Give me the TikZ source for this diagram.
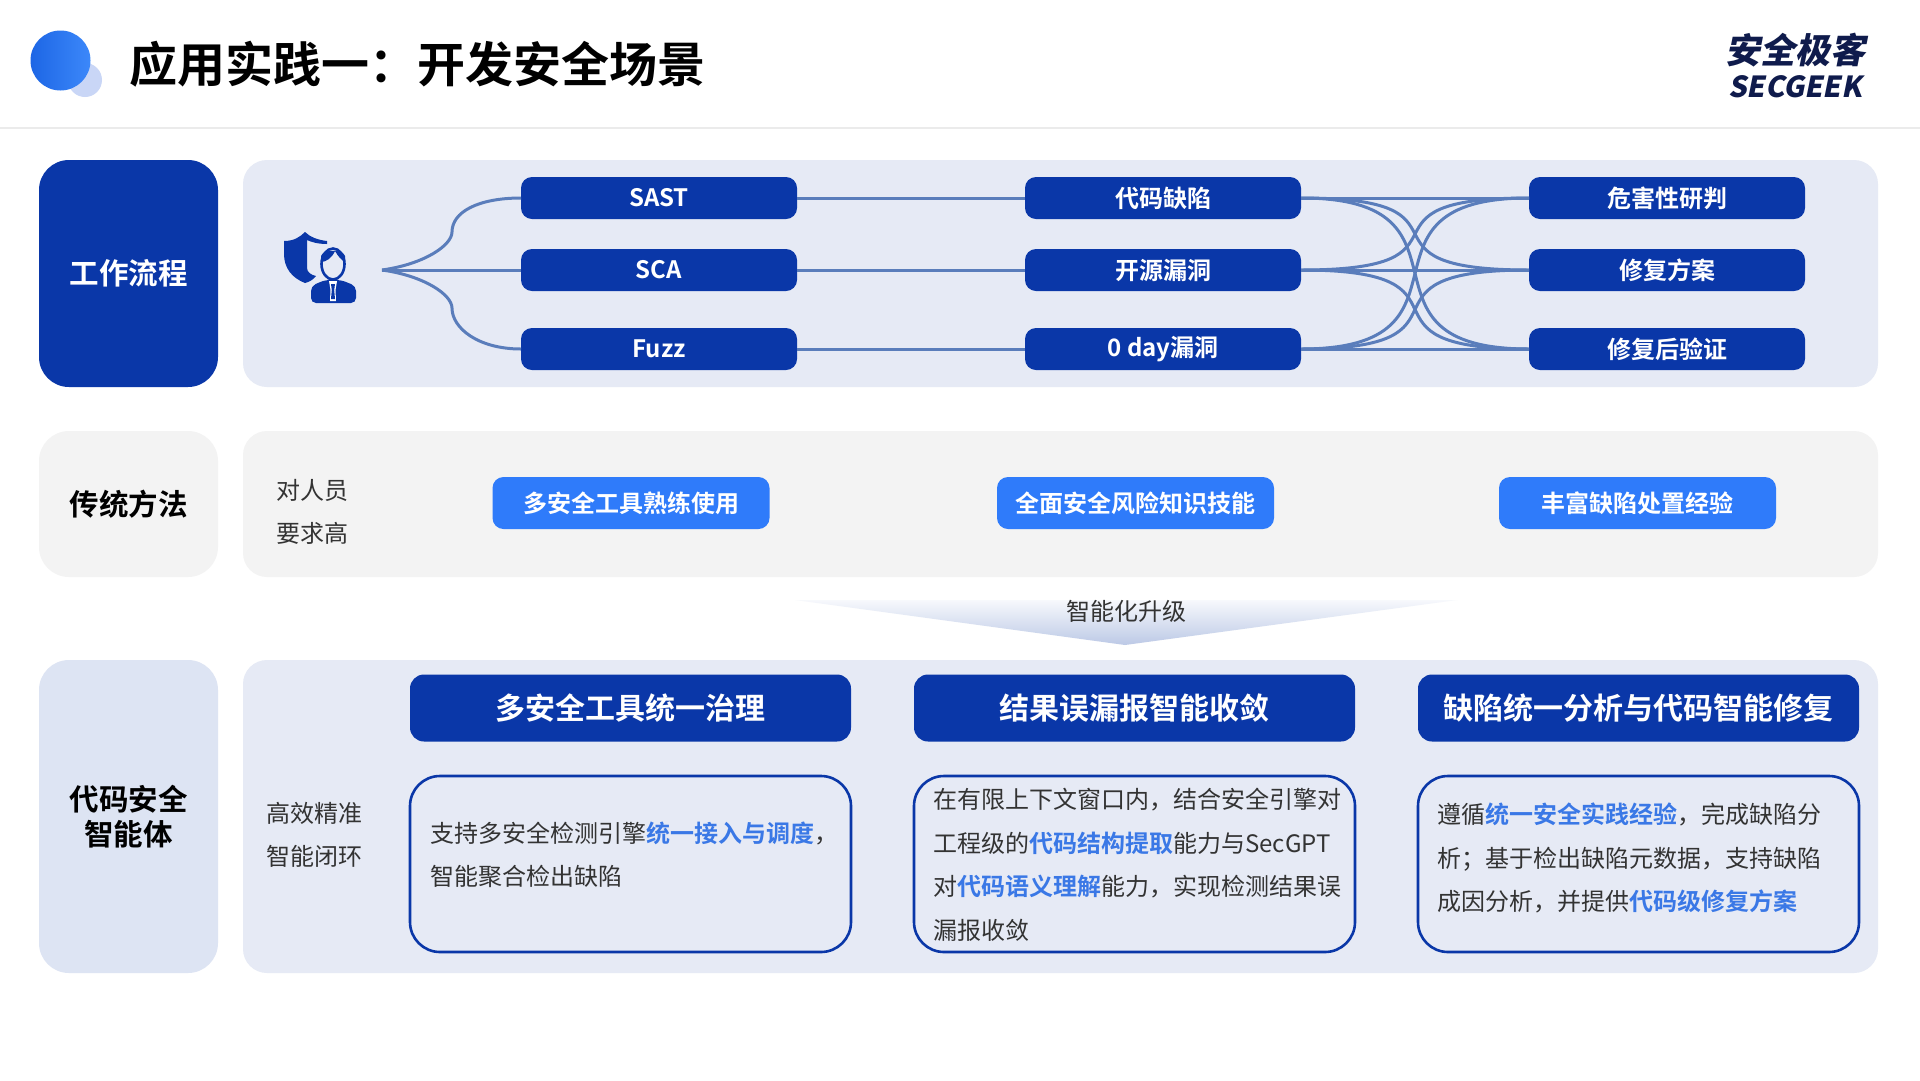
\documentclass[tikz,border=0pt]{standalone}
\usepackage{fontspec}
\setmainfont{Noto Sans CJK SC}[BoldFont={Noto Sans CJK SC Bold}]
\newfontfamily\logofont{Noto Sans CJK SC Black}[FakeSlant=0.2]

\definecolor{deepblue}{HTML}{0A37A8}
\definecolor{brightblue}{HTML}{2F7BFA}
\definecolor{markblue}{HTML}{3A78E6}
\definecolor{linkblue}{HTML}{5A7DBB}
\definecolor{panelblue}{HTML}{E6EAF5}
\definecolor{sideblue}{HTML}{DDE4F3}
\definecolor{panelgray}{HTML}{F3F3F3}
\definecolor{inktext}{HTML}{333333}
\definecolor{tipblue}{HTML}{BCC9E6}
\definecolor{dotblue}{HTML}{C9D6F6}
\definecolor{dotleft}{HTML}{1D66E5}
\definecolor{dotright}{HTML}{3C88FA}
\definecolor{logonavy}{HTML}{0F1B4C}

\newcommand{\mk}[1]{\textbf{\textcolor{markblue}{#1}}}
\newcommand{\fs}[1]{\fontsize{#1}{#1}\selectfont}
\newcommand{\zcolon}{\symbol{"FF1A}}
\newcommand{\zcomma}{\symbol{"FF0C}}
\newcommand{\zsemi}{\symbol{"FF1B}}

\tikzset{
  sidebox/.style={rounded corners=30pt, minimum width=179pt, inner sep=0pt, outer sep=0pt, align=center, font=\fs{29.5}\bfseries},
  flowpill/.style={fill=deepblue, text=white, rounded corners=11pt, minimum width=276pt, minimum height=42pt, inner sep=0pt, outer sep=0pt, font=\fs{24}\bfseries},
  needpill/.style={fill=brightblue, text=white, rounded corners=11pt, minimum width=277pt, minimum height=52pt, inner sep=0pt, outer sep=0pt, font=\fs{24}\bfseries},
  headbox/.style={fill=deepblue, text=white, rounded corners=14pt, minimum width=441pt, minimum height=67pt, inner sep=0pt, outer sep=0pt, font=\fs{30}\bfseries},
  textbox/.style={draw=deepblue, line width=2.6pt, rounded corners=30pt, minimum width=441pt, minimum height=176pt, inner sep=0pt},
  bodytext/.style={anchor=west, align=left, text=inktext, inner sep=0pt, font=\fontsize{24}{43.5}\selectfont},
  sidetext/.style={anchor=west, align=left, text=inktext, inner sep=0pt, font=\fontsize{24}{43.5}\selectfont},
  link/.style={draw=linkblue, line width=3pt},
}

\begin{document}
\begin{tikzpicture}[x=1pt, y=-1pt]
  \useasboundingbox (0,0) rectangle (1920,1080);

  % header
  \fill[white] (0,0) rectangle (1920,1080);
  \fill[black!8] (0,127) rectangle (1920,129);
  \fill[dotblue] (85,80) circle (17);
  \shade[left color=dotleft, right color=dotright] (60.5,60.5) circle (30);
  \node[anchor=west, inner sep=0pt, font=\fs{48}\bfseries] (title) at (129,64) {应用实践一\zcolon 开发安全场景};

  \node[inner sep=0pt, text=logonavy, font=\fs{35}\logofont] (logocn) at (1795,50) {安全极客};
  \node[inner sep=0pt, text=logonavy, font=\fs{29}\logofont] (logoen) at (1795,87) {SECGEEK};

  % panels
  \fill[panelblue, rounded corners=24pt]  (243,160) rectangle (1878,387);
  \fill[panelgray, rounded corners=24pt]  (243,431) rectangle (1878,577);
  \fill[panelblue, rounded corners=24pt]  (243,660) rectangle (1878,973);

  \node[sidebox, fill=deepblue, text=white, minimum height=227pt] (flow) at (128.5,273.5) {工作流程};
  \node[sidebox, fill=panelgray, minimum height=146pt] (old) at (128.5,504) {传统方法};
  \node[sidebox, fill=sideblue, minimum height=313pt] (agent) at (128.5,816.5) {代码安全\\[5pt]智能体};

  % row one
  \node[flowpill] (sast) at (659,198) {SAST};
  \node[flowpill] (sca)  at (659,270) {SCA};
  \node[flowpill] (fuzz) at (659,349) {Fuzz};
  \node[flowpill] (bug)  at (1163,198) {代码缺陷};
  \node[flowpill] (oss)  at (1163,270) {开源漏洞};
  \node[flowpill] (zero) at (1163,349) {0 day漏洞};
  \node[flowpill] (risk) at (1667,198) {危害性研判};
  \node[flowpill] (plan) at (1667,270) {修复方案};
  \node[flowpill] (test) at (1667,349) {修复后验证};

  % icon
  \fill[deepblue] (284,241) .. controls (294,241) and (300,237) .. (305,232) .. controls (310,237) and (318,240) .. (327,241)
    -- (327,244) .. controls (318,244) and (311,242) .. (307,240) -- (307,268) .. controls (307,272) and (311,275) .. (316,276)
    .. controls (313,280) and (309,282) .. (305,283) .. controls (292,278) and (284,268) .. (284,254) -- cycle;
  \draw[deepblue, line width=2.6pt] (333,264) ellipse (11.5 and 15.5);
  \fill[deepblue] (321,262) .. controls (326,262) and (332,258) .. (335,251) .. controls (338,256) and (341,260) .. (345,262) -- (345,256) .. controls (343,249) and (323,249) .. (321,256) -- cycle;
  \fill[deepblue, rounded corners=5pt] (311,303) -- (311,286) -- (325,280) -- (341,280) -- (356,286) -- (356,303) -- cycle;
  \fill[white] (329,281) -- (337,281) -- (335.5,290) -- (336,301) -- (330,301) -- (330.5,290) -- cycle;
  \fill[deepblue] (331,284) -- (335,284) -- (334.2,290) -- (335,299) -- (331,299) -- (331.8,290) -- cycle;

  % links
  \coordinate (fan) at (382,270);
  \draw[link] (fan) .. controls (425,264) and (452,245) .. (452,232) .. controls (452,212) and (478,198) .. (sast.west);
  \draw[link] (fan) -- (sca.west);
  \draw[link] (fan) .. controls (425,276) and (452,295) .. (452,308) .. controls (452,328) and (478,349) .. (fuzz.west);

  \draw[link] (sast.east) -- (bug.west);
  \draw[link] (sca.east)  -- (oss.west);
  \draw[link] (fuzz.east) -- (zero.west);

  \foreach \a in {bug,oss,zero} {
    \foreach \b in {risk,plan,test} {
      \draw[link] (\a.east) .. controls +(190,0) and +(-190,0) .. (\b.west);
    }
  }

  % row two
  \node[sidetext] (oldtext) at (276,512) {对人员\\要求高};
  \node[needpill] (need1) at (631,503) {多安全工具熟练使用};
  \node[needpill] (need2) at (1135.5,503) {全面安全风险知识技能};
  \node[needpill] (need3) at (1637.5,503) {丰富缺陷处置经验};

  % arrow
  \shade[top color=tipblue!12!white, bottom color=tipblue] (795,600) -- (1457,600) -- (1125,645) -- cycle;
  \node[text=inktext, inner sep=0pt, font=\fs{24}] (upgrade) at (1126,611) {智能化升级};

  % row three
  \node[sidetext] (agenttext) at (266,835) {高效精准\\智能闭环};

  \node[headbox] (head1) at (630.5,708) {多安全工具统一治理};
  \node[headbox] (head2) at (1134.5,708) {结果误漏报智能收敛};
  \node[headbox] (head3) at (1638.5,708) {缺陷统一分析与代码智能修复};

  \node[textbox] (box1) at (630.5,864) {};
  \node[textbox] (box2) at (1134.5,864) {};
  \node[textbox] (box3) at (1638.5,864) {};

  \node[bodytext] (text1) at (430,855) {支持多安全检测引擎\mk{统一接入与调度}\zcomma\\智能聚合检出缺陷};
  \node[bodytext] (text2) at (933,865) {在有限上下文窗口内\zcomma 结合安全引擎对\\工程级的\mk{代码结构提取}能力与SecGPT\\对\mk{代码语义理解}能力\zcomma 实现检测结果误\\漏报收敛};
  \node[bodytext] (text3) at (1437,858) {遵循\mk{统一安全实践经验}\zcomma 完成缺陷分\\析\zsemi 基于检出缺陷元数据\zcomma 支持缺陷\\成因分析\zcomma 并提供\mk{代码级修复方案}};

\end{tikzpicture}
\end{document}
